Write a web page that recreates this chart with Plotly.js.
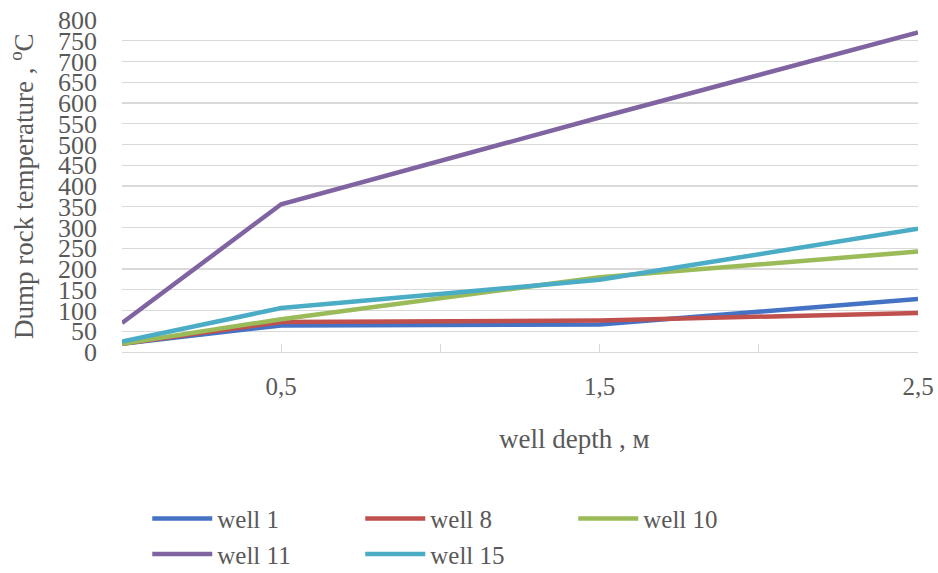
<!DOCTYPE html>
<html>
<head>
<meta charset="utf-8">
<script src="https://cdn.plot.ly/plotly-3.0.1.min.js"></script>
<style>html,body{margin:0;padding:0;background:#fff;}#chart{width:938px;height:573px;}</style>
</head>
<body>
<div id="chart"></div>
<script>
const depth = [0, 0.5, 1.5, 2.5];
const well1 = [20, 64, 66, 128];
const well8 = [20, 72, 76, 94];
const well10 = [20, 79, 180, 242];
const well11 = [70, 356, 565, 770];
const well15 = [25, 106, 174, 297];
const seriesNames = ['well 1', 'well 8', 'well 10', 'well 11', 'well 15'];
const xTickVals = [0, 0.5, 1, 1.5, 2, 2.5];
const xTickText = ['', '0,5', '', '1,5', '', '2,5'];
const yTickVals = [0,50,100,150,200,250,300,350,400,450,500,550,600,650,700,750,800];

const colors = ['#4472C4', '#C0504D', '#9BBB59', '#8064A2', '#4BACC6'];
const values = [well1, well8, well10, well11, well15];
const traces = values.map((v, i) => ({
  x: depth, y: v, name: seriesNames[i], type: 'scatter', mode: 'lines',
  line: {color: colors[i], width: 4.5}
}));
const serif = 'Liberation Serif, Times New Roman, serif';
const grey = '#595959';
const layout = {
  width: 938, height: 573,
  margin: {l: 122, r: 20, t: 20, b: 220.5},
  paper_bgcolor: '#fff', plot_bgcolor: '#fff',
  showlegend: true,
  font: {family: serif, color: grey},
  xaxis: {
    range: [0, 2.5], tickvals: xTickVals, ticktext: xTickText,
    showgrid: false, zeroline: false, showline: true, linecolor: '#d9d9d9', linewidth: 1.3,
    ticks: 'inside', ticklen: 8, tickcolor: '#d9d9d9', tickwidth: 1.3,
    tickfont: {size: 25, family: serif, color: grey}, ticklabelstandoff: 12
  },
  yaxis: {
    range: [0, 800], tickvals: yTickVals, showgrid: true, gridcolor: '#d9d9d9', gridwidth: 1.3,
    zeroline: false, showline: false, ticks: '',
    tickfont: {size: 26, family: serif, color: grey}, ticklabelstandoff: 24
  },
  annotations: [{
    xref: 'paper', yref: 'paper', x: (574 - 122) / 796, y: -(440 - 352.5) / 332.5,
    text: 'well depth , м', showarrow: false, font: {size: 27, family: serif, color: grey},
    xanchor: 'center', yanchor: 'middle'
  }, {
    xref: 'paper', yref: 'paper', x: (22 - 122) / 796, y: 0.5, textangle: -90,
    text: 'Dump rock temperature , <sup>o</sup>C', showarrow: false,
    font: {size: 27, family: serif, color: grey}, xanchor: 'center', yanchor: 'middle'
  }],
  legend: {
    orientation: 'h', xref: 'container', yref: 'container',
    x: 0.157, xanchor: 'left', y: 0.135, yanchor: 'top',
    font: {size: 25, family: serif, color: grey}, entrywidth: 138, entrywidthmode: 'pixels',
    tracegroupgap: 0, itemwidth: 60
  }
};
Plotly.newPlot('chart', traces, layout, {displayModeBar: false, staticPlot: true});
</script>
</body>
</html>
